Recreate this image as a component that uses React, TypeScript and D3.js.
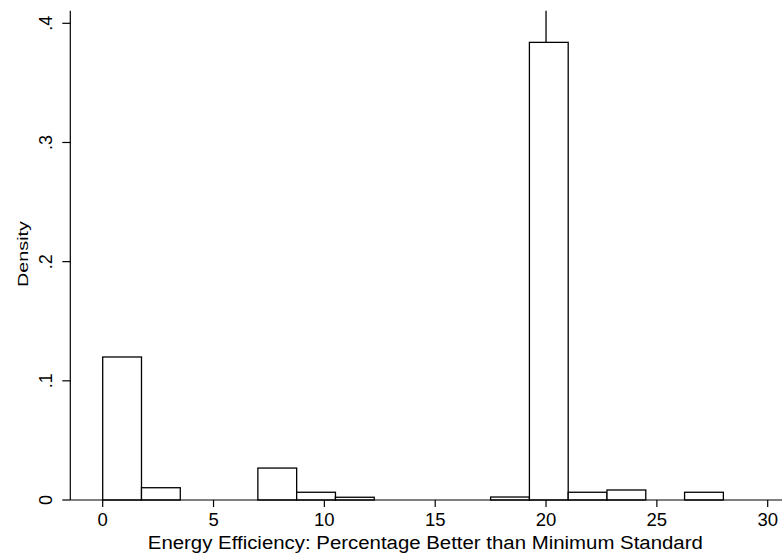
import { useMemo } from "react";
import * as d3 from "d3";

const WIDTH = 782;
const HEIGHT = 559;

// histogram bins (left edges), width 1.75
const binEdges = [0, 1.75, 3.5, 5.25, 7, 8.75, 10.5, 12.25, 14, 15.75, 17.5, 19.25, 21, 22.75, 24.5, 26.25];
const binWidth = 1.75;
const densities = [0.12, 0.0103, 0, 0, 0.0268, 0.0065, 0.0023, 0, 0, 0, 0.0025, 0.384, 0.0065, 0.0084, 0, 0.0065];

const xTicks = [0, 5, 10, 15, 20, 25, 30];
const yTicks = [0, 0.1, 0.2, 0.3, 0.4];
const yTickLabels = ["0", ".1", ".2", ".3", ".4"];
const refLine = 20;

const xTitle = "Energy Efficiency: Percentage Better than Minimum Standard";
const yTitle = "Density";

const FONT = "'Liberation Sans', Arial, sans-serif";

export default function App() {
  const x = useMemo(() => d3.scaleLinear().domain([0, 30]).range([102.7, 767.7]), []);
  const y = useMemo(() => d3.scaleLinear().domain([0, 0.4]).range([500, 23.3]), []);

  const left = 70.3;
  const top = 10.7;
  const base = y(0);

  return (
    <svg
      width={WIDTH}
      height={HEIGHT}
      style={{ position: "absolute", left: 0, top: 0, background: "#fff" }}
    >
      <rect width={WIDTH} height={HEIGHT} fill="#fff" />
      {/* reference line */}
      <line x1={x(refLine)} x2={x(refLine)} y1={top} y2={base} stroke="#000" strokeWidth={1.3} />

      {/* bars */}
      {densities.map((d, i) =>
        d > 0 ? (
          <rect
            key={i}
            x={x(binEdges[i])}
            y={y(d)}
            width={x(binEdges[i] + binWidth) - x(binEdges[i])}
            height={base - y(d)}
            fill="#fff"
            stroke="#000"
            strokeWidth={1.3}
          />
        ) : null
      )}

      {/* y axis */}
      <line x1={left} x2={left} y1={top} y2={base} stroke="#000" strokeWidth={1.2} />
      {yTicks.map((t, i) => (
        <g key={t}>
          <line x1={left - 8} x2={left} y1={y(t)} y2={y(t)} stroke="#000" strokeWidth={1.2} />
          <text
            transform={`translate(${left - 18},${y(t)}) rotate(-90)`}
            textAnchor="middle"
            fontFamily={FONT}
            fontSize={18}
            fill="#000"
          >
            {yTickLabels[i]}
          </text>
        </g>
      ))}
      <text
        transform={`translate(28,254) rotate(-90)`}
        textAnchor="middle"
        fontFamily={FONT}
        fontSize={15}
        textLength={66}
        lengthAdjust="spacingAndGlyphs"
        fill="#000"
      >
        {yTitle}
      </text>

      {/* x axis */}
      <line x1={left} x2={WIDTH} y1={base} y2={base} stroke="#000" strokeWidth={1.2} />
      {xTicks.map((t) => (
        <g key={t}>
          <line x1={x(t)} x2={x(t)} y1={base} y2={base + 7} stroke="#000" strokeWidth={1.2} />
          <text x={x(t)} y={526} textAnchor="middle" fontFamily={FONT} fontSize={18.5} fill="#000">
            {t}
          </text>
        </g>
      ))}
      <text
        x={425.3}
        y={549}
        textAnchor="middle"
        fontFamily={FONT}
        fontSize={18}
        textLength={555}
        lengthAdjust="spacingAndGlyphs"
        fill="#000"
      >
        {xTitle}
      </text>
    </svg>
  );
}
